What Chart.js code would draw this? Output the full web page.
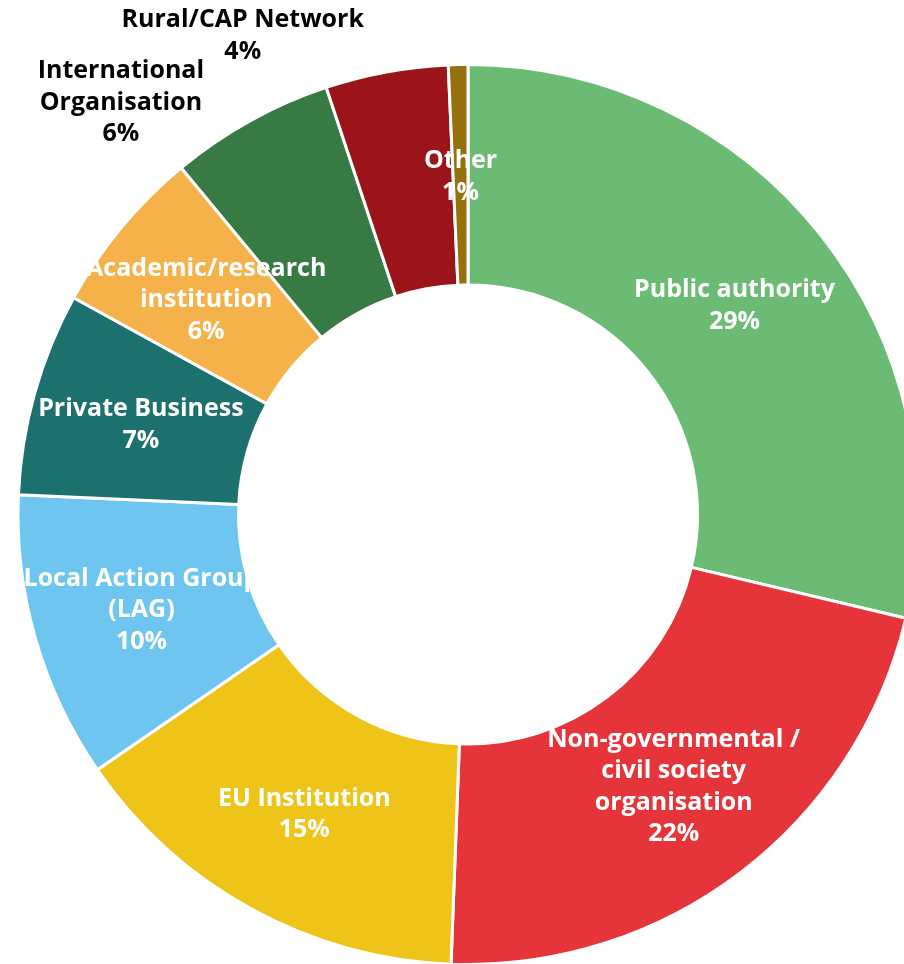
<!DOCTYPE html>
<html>
<head>
<meta charset="utf-8">
<script src="https://cdn.jsdelivr.net/npm/chart.js@4.4.1/dist/chart.umd.min.js"></script>
<style>
  html, body { margin: 0; padding: 0; background: #fff; overflow: hidden; }
  #wrap { position: relative; width: 936px; height: 966px; }
</style>
</head>
<body>
<div id="wrap"><canvas id="donut"></canvas></div>
<script>
// --- Data ---
const categories = [
  'Public authority',
  'Non-governmental /\ncivil society\norganisation',
  'EU Institution',
  'Local Action Group\n(LAG)',
  'Private Business',
  'Academic/research\ninstitution',
  'International\nOrganisation',
  'Rural/CAP Network',
  'Other'
];
const shares = [28.7, 21.9, 14.8, 10.3, 7.3, 6.0, 5.9, 4.4, 0.7];
const percentLabels = ['29%', '22%', '15%', '10%', '7%', '6%', '6%', '4%', '1%'];
const sliceColors = ['#6BBB74', '#E6353A', '#EEC418', '#6EC6F0', '#1C716F', '#F5B24B', '#377A43', '#9A1419', '#94710C'];

// labels that were dragged outside the ring: [radius factor, angle in degrees from top]
const outsideLabels = { 6: [1.2, 320], 7: [1.18, 334.9] };

// --- Label plugin (no datalabels available offline) ---
const sliceLabels = {
  id: 'sliceLabels',
  afterDatasetsDraw(chart) {
    const ctx = chart.ctx;
    const meta = chart.getDatasetMeta(0);
    ctx.save();
    ctx.font = 'bold 25px "Open Sans", sans-serif';
    ctx.textAlign = 'center';
    ctx.textBaseline = 'middle';
    meta.data.forEach((arc, i) => {
      const lines = categories[i].split('\n').concat(percentLabels[i]);
      let x, y;
      if (outsideLabels[i]) {
        const [rf, deg] = outsideLabels[i];
        const a = deg * Math.PI / 180;
        x = arc.x + arc.outerRadius * rf * Math.sin(a);
        y = arc.y - arc.outerRadius * rf * Math.cos(a);
        ctx.fillStyle = '#000';
      } else {
        const mid = (arc.startAngle + arc.endAngle) / 2;
        const r = (arc.innerRadius + arc.outerRadius) / 2;
        x = arc.x + r * Math.cos(mid);
        y = arc.y + r * Math.sin(mid);
        ctx.fillStyle = '#fff';
      }
      const lh = 31.5;
      const top = y - (lines.length - 1) * lh / 2 + 2;
      lines.forEach((t, k) => ctx.fillText(t, x, top + k * lh));
    });
    ctx.restore();
  }
};

new Chart(document.getElementById('donut'), {
  type: 'doughnut',
  data: {
    labels: categories,
    datasets: [{
      data: shares,
      backgroundColor: sliceColors,
      borderColor: '#fff',
      borderWidth: 3,
      hoverOffset: 0,
      offset: 0
    }]
  },
  options: {
    responsive: true,
    maintainAspectRatio: false,
    animation: false,
    cutout: '51%',
    layout: { padding: { top: 63, bottom: 0, left: 0, right: 0 } },
    plugins: {
      legend: { display: false },
      tooltip: { enabled: false }
    }
  },
  plugins: [sliceLabels]
});
</script>
</body>
</html>
